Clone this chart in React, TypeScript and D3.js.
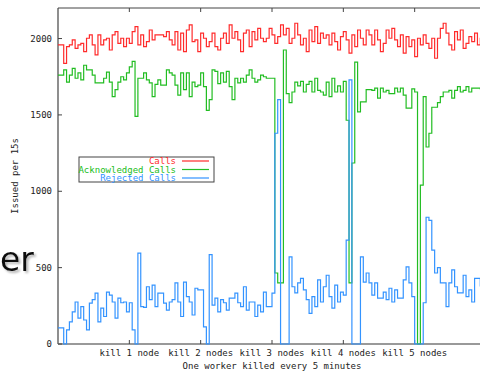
import * as d3 from 'd3';

// sampled every step (150 steps over 30 minutes, one node killed every 5 minutes)
const callsData = [
  1958, 1958, 1838, 1947, 1958, 1991, 1936, 1958, 1969, 1914,
  2002, 2024, 1958, 1893, 2024, 1958, 1991, 2002, 1925, 2024,
  2045, 1969, 2002, 1947, 2002, 1969, 2045, 2078, 1958, 2024,
  1947, 1980, 2056, 1991, 2024, 2024, 2024, 2013, 2045, 1991,
  1958, 2045, 1925, 2035, 1914, 2056, 2089, 1980, 1991, 1914,
  2035, 2002, 1947, 1980, 2035, 1947, 1925, 2002, 2035, 1969,
  2089, 2002, 2045, 1991, 1914, 2035, 2056, 1947, 2045, 1991,
  2067, 2002, 1980, 2002, 2067, 2024, 1969, 2013, 2089, 2024,
  2067, 1969, 2002, 2100, 2024, 1958, 2002, 1914, 2056, 1980,
  2078, 1969, 2035, 2002, 2024, 1958, 2035, 1980, 1925, 2013,
  2045, 1991, 1904, 2024, 1947, 2056, 2002, 1958, 2056, 2024,
  1958, 2056, 1991, 1914, 1969, 2056, 2002, 2067, 1991, 1947,
  2024, 1904, 2013, 1947, 1991, 1882, 2002, 1958, 2024, 1969,
  1936, 2002, 1871, 2002, 2067, 2100, 2035, 1958, 1925, 2045,
  1991, 2056, 1936, 1969, 2013, 1980, 2035, 1958, 2002, 1991,
];

const ackData = [
  1760, 1760, 1795, 1715, 1760, 1805, 1740, 1775, 1730, 1825,
  1795, 1795, 1760, 1710, 1710, 1710, 1740, 1780, 1715, 1620,
  1665, 1715, 1750, 1730, 1775, 1815, 1850, 1490, 1740, 1740,
  1775, 1730, 1710, 1620, 1700, 1730, 1695, 1695, 1795, 1775,
  1760, 1695, 1630, 1775, 1665, 1775, 1620, 1715, 1685, 1695,
  1775, 1685, 1530, 1600, 1795, 1785, 1705, 1775, 1715, 1785,
  1685, 1600, 1740, 1710, 1740, 1715, 1760, 1795, 1740, 1715,
  1730, 1760, 1750, 1740, 1740, 1740, 465, 400, 400, 1925,
  1640, 1580, 1650, 1715, 1690, 1720, 1650, 1700, 1720, 1650,
  1740, 1660, 1650, 1630, 1715, 1620, 1740, 1650, 1690, 1650,
  1720, 1465, 400, 1185, 1845, 1520, 1585, 1585, 1665, 1665,
  1660, 1675, 1610, 1675, 1650, 1660, 1640, 1640, 1675, 1650,
  1675, 1630, 1545, 1545, 1670, 1650, 0, 1040, 1620, 1290,
  1380, 1550, 1550, 1580, 1620, 1650, 1650, 1660, 1610, 1660,
  1685, 1650, 1660, 1685, 1650, 1675, 1675, 1675, 1670, 1680,
];

const rejectedData = [
  105, 105, 0, 92, 145, 210, 275, 170, 245, 157,
  92, 268, 290, 333, 145, 235, 180, 340, 320, 275,
  170, 300, 270, 275, 210, 270, 92, 0, 595, 245,
  240, 375, 290, 385, 245, 333, 333, 268, 222, 275,
  290, 400, 275, 180, 405, 310, 275, 190, 365, 355,
  355, 112, 0, 585, 255, 300, 210, 290, 270, 222,
  300, 300, 333, 270, 245, 375, 222, 275, 275, 180,
  255, 210, 340, 245, 245, 333, 1380, 1600, 0, 0,
  0, 570, 375, 335, 400, 430, 355, 290, 200, 310,
  245, 420, 275, 375, 450, 310, 235, 385, 275, 340,
  320, 680, 1730, 0, 0, 0, 570, 405, 465, 400,
  320, 400, 300, 300, 340, 290, 365, 275, 355, 300,
  300, 420, 505, 400, 310, 0, 0, 0, 270, 830,
  810, 615, 465, 500, 400, 400, 245, 400, 485, 375,
  335, 335, 450, 310, 355, 275, 430, 430, 380, 340,
];

const seriesNames = ['Calls', 'Acknowledged Calls', 'Rejected Calls'];
const yTicks = [0, 500, 1000, 1500, 2000];
const xTicks = [25, 50, 75, 100, 125];
const xTickLabels = ['kill 1 node', 'kill 2 nodes', 'kill 3 nodes', 'kill 4 nodes', 'kill 5 nodes'];
const xTitle = 'One worker killed every 5 minutes';
const yTitle = 'Issued per 15s';

const W = 480;
const H = 373;
const colors = ['#ff2b2b', '#22bd22', '#3393ff'];
const font = "'DejaVu Sans Mono', monospace";
const axisColor = '#444';

export default function App() {
  const left = 58;
  const right = 486;
  const top = 8;
  const bottom = 344;

  const x = d3.scaleLinear().domain([0, 150]).range([left, right]);
  const y = d3.scaleLinear().domain([0, 2200]).range([bottom, top]);

  const line = d3
    .line<[number, number]>()
    .x((d) => x(d[0]))
    .y((d) => y(d[1]))
    .curve(d3.curveStepAfter);

  const toPoints = (vals: number[]): [number, number][] => {
    const pts = vals.map((v, i) => [i, v] as [number, number]);
    pts.push([vals.length, vals[vals.length - 1]]);
    return pts;
  };

  const series = [callsData, ackData, rejectedData];

  // legend box
  const lg = { x0: 79, x1: 214, y0: 157, y1: 182 };
  const rowY = [161, 169.5, 178];

  return (
    <svg
      width={W}
      height={H}
      style={{ position: 'absolute', left: 0, top: 0, display: 'block', background: '#fff' }}
    >
      <defs>
        <filter id="shadow" x="-20%" y="-20%" width="140%" height="140%">
          <feDropShadow dx={2} dy={2} stdDeviation={1} floodColor="#999" floodOpacity={0.7} />
        </filter>
      </defs>
      <rect width={W} height={H} fill="#fff" />

      {/* slide text bleeding into the picture */}
      <text
        x={0}
        y={271}
        fontFamily="'DejaVu Sans', sans-serif"
        fontSize={33}
        fill="#111"
        filter="url(#shadow)"
      >
        er
      </text>

      {/* frame */}
      <line x1={left} x2={W + 10} y1={top} y2={top} stroke={axisColor} strokeWidth={1} />
      <line x1={left} x2={left} y1={top} y2={bottom} stroke={axisColor} strokeWidth={1.2} />
      <line x1={left} x2={W + 10} y1={bottom} y2={bottom} stroke="#777" strokeWidth={1.6} />

      {/* y ticks */}
      {yTicks.map((t) => (
        <g key={'y' + t}>
          <line x1={left} x2={left + 4} y1={y(t)} y2={y(t)} stroke={axisColor} />
          <text
            x={left - 6}
            y={y(t) + 3}
            textAnchor="end"
            fontFamily={font}
            fontSize={9}
            fill="#222"
          >
            {t}
          </text>
        </g>
      ))}

      {/* x ticks */}
      {xTicks.map((t, i) => (
        <g key={'x' + t}>
          <line x1={x(t)} x2={x(t)} y1={top} y2={top + 4} stroke={axisColor} />
          <line x1={x(t)} x2={x(t)} y1={bottom} y2={bottom - 4} stroke={axisColor} />
          <text x={x(t)} y={356} textAnchor="middle" fontFamily={font} fontSize={9} fill="#222">
            {xTickLabels[i]}
          </text>
        </g>
      ))}

      <text
        x={(left + right) / 2}
        y={369}
        textAnchor="middle"
        fontFamily={font}
        fontSize={9}
        fill="#222"
      >
        {xTitle}
      </text>
      <text
        transform={`translate(18,${(top + bottom) / 2}) rotate(-90)`}
        textAnchor="middle"
        fontFamily={font}
        fontSize={9}
        fill="#222"
      >
        {yTitle}
      </text>

      {/* series */}
      {series.map((vals, i) => (
        <path
          key={seriesNames[i]}
          d={line(toPoints(vals)) ?? ''}
          fill="none"
          stroke={colors[i]}
          strokeWidth={1.2}
        />
      ))}

      {/* legend */}
      <rect
        x={lg.x0}
        y={lg.y0}
        width={lg.x1 - lg.x0}
        height={lg.y1 - lg.y0}
        fill="#fff"
        stroke={axisColor}
        strokeWidth={1}
      />
      {seriesNames.map((name, i) => (
        <g key={'lg' + name}>
          <text
            x={176}
            y={rowY[i] + 3}
            textAnchor="end"
            fontFamily={font}
            fontSize={9}
            fill={colors[i]}
          >
            {name}
          </text>
          <line x1={182} x2={209} y1={rowY[i]} y2={rowY[i]} stroke={colors[i]} strokeWidth={1.2} />
        </g>
      ))}
    </svg>
  );
}
